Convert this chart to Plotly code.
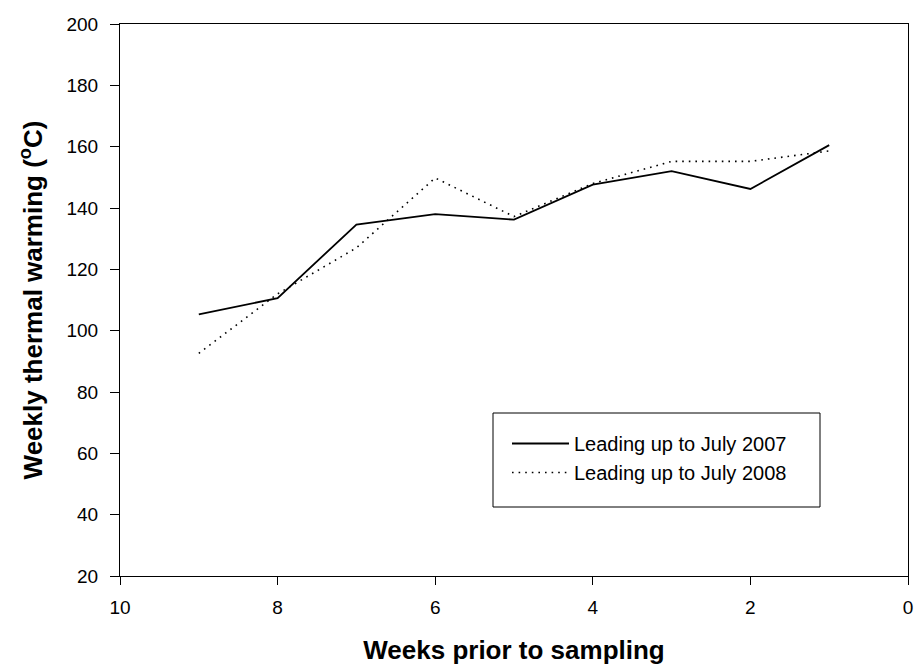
import plotly.graph_objects as go

weeks = [9, 8, 7, 6, 5, 4, 3, 2, 1]
warming_2007 = [105.3, 110.6, 134.6, 138.0, 136.2, 147.6, 152.0, 146.2, 160.5]
warming_2008 = [92.6, 112.0, 127.0, 149.8, 137.2, 148.0, 155.2, 155.2, 158.6]
series_names = ["Leading up to July 2007", "Leading up to July 2008"]
x_ticks = [10, 8, 6, 4, 2, 0]
y_ticks = [20, 40, 60, 80, 100, 120, 140, 160, 180, 200]

fig = go.Figure()
fig.add_trace(go.Scatter(x=weeks, y=warming_2007, mode="lines", name=series_names[0],
                         line=dict(color="black", width=1.8, dash="solid")))
fig.add_trace(go.Scatter(x=weeks, y=warming_2008, mode="lines", name=series_names[1],
                         line=dict(color="black", width=1.6, dash="1.6px,5px")))

font_family = "Liberation Sans, Arial, sans-serif"
fig.update_layout(
    width=917, height=671,
    margin=dict(l=120, r=9, t=24, b=95),
    paper_bgcolor="white", plot_bgcolor="white",
    font=dict(family=font_family, color="black", size=19),
    showlegend=True,
    legend=dict(x=(507 - 120) / 788, y=(576 - 424) / 552, xanchor="left", yanchor="top",
                bgcolor="rgba(0,0,0,0)", borderwidth=0,
                font=dict(size=20, family=font_family), itemwidth=57,
                tracegroupgap=0),
    xaxis=dict(range=[10, 0], tickvals=x_ticks, ticks="outside", ticklen=8,
               tickwidth=1, tickcolor="black", showline=True, linecolor="black",
               linewidth=1, mirror=True, showgrid=False, zeroline=False,
               automargin=False, ticklabelstandoff=6,
               tickfont=dict(size=19),
               title=dict(text="<b>Weeks prior to sampling</b>", font=dict(size=26), standoff=24)),
    yaxis=dict(range=[20, 200], tickvals=y_ticks, ticks="outside", ticklen=9,
               tickwidth=1, tickcolor="black", showline=True, linecolor="black",
               linewidth=1, mirror=True, showgrid=False, zeroline=False,
               automargin=False, ticklabelstandoff=8,
               tickfont=dict(size=19),
               title=dict(text="<b>Weekly thermal warming (<sup>o</sup>C)</b>", font=dict(size=26), standoff=16)),
    shapes=[dict(type="rect", xref="paper", yref="paper",
                 x0=(493 - 120) / 788, x1=(820 - 120) / 788,
                 y0=(576 - 507) / 552, y1=(576 - 413) / 552,
                 line=dict(color="black", width=1), fillcolor="rgba(0,0,0,0)")],
)

fig.write_html("out.html")
